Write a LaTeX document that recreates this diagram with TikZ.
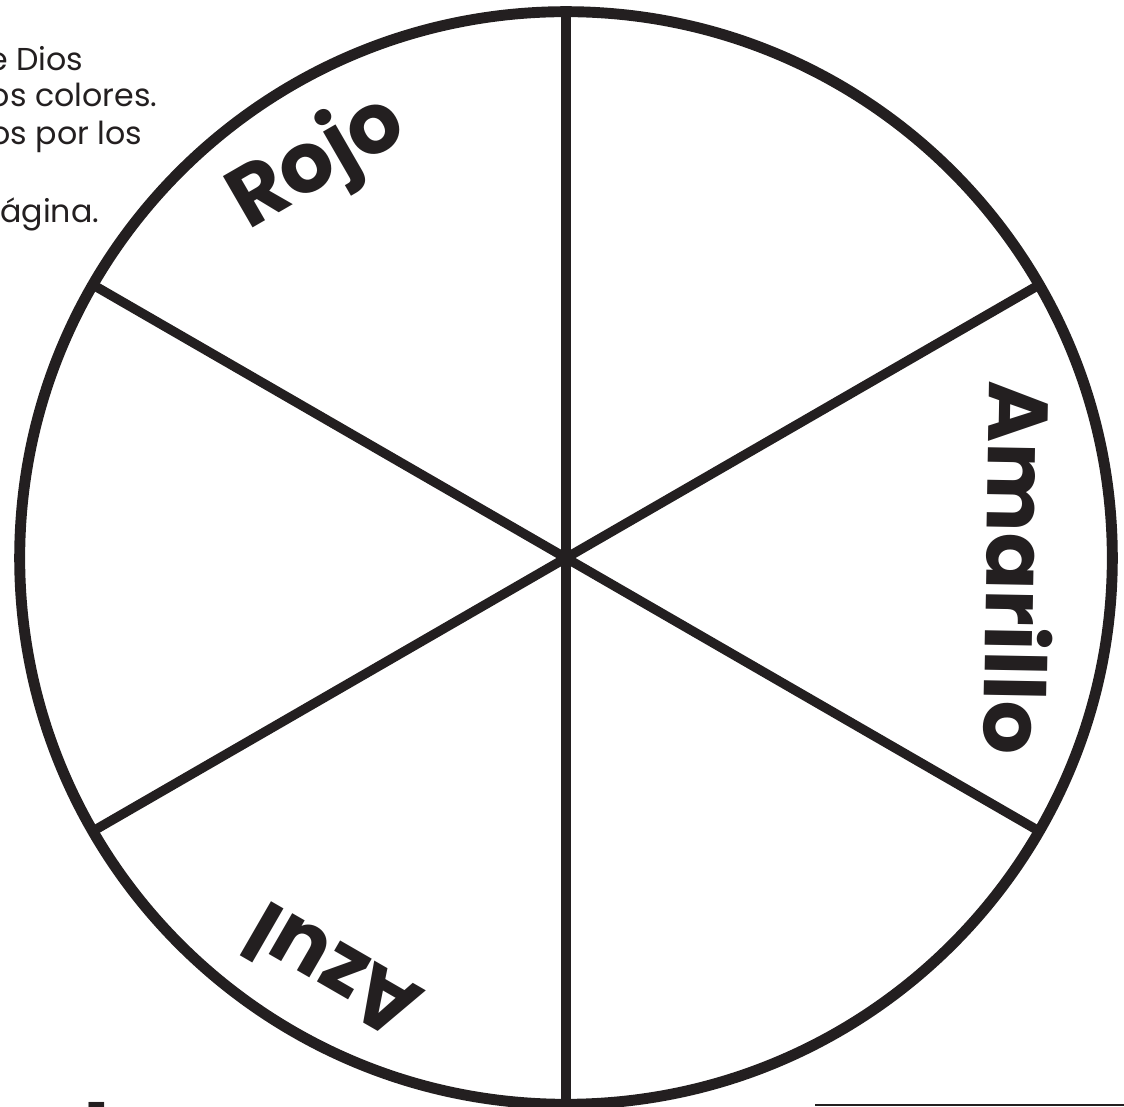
\documentclass[tikz,border=0pt]{standalone}
\usepackage{fontspec}
\setmainfont{Poppins}
\usetikzlibrary{positioning}
\definecolor{ink}{HTML}{231F20}

\begin{document}
\begin{tikzpicture}[x=0.01cm, y=-0.01cm,
  rim/.style       = {draw=ink, line width=3.1pt},
  spoke/.style     = {draw=ink, line width=2.7pt},
  colorname/.style = {font=\fontsize{24}{28}\selectfont\bfseries,
                      text=ink, inner sep=0pt},
  note/.style      = {font=\fontsize{9}{11}\selectfont, text=ink,
                      inner sep=0pt, anchor=base east},
  numeral/.style   = {font=\fontsize{16}{18}\selectfont\bfseries, text=ink,
                      inner sep=0pt, anchor=base west},
]
\useasboundingbox (0,0) rectangle (1124,1107);

% wheel
\coordinate (c) at (566,558);
\draw[rim] (c) circle (5.46cm);
\foreach \a in {30,90,150,210,270,330}
  \path (c) ++(\a:5.46cm) coordinate (r\a);
\foreach \a in {30,90,150,210,270,330}
  \draw[spoke] (c) -- (r\a);

% colour names
\node[colorname, rotate=30]  (rojo)     at (318,164) {Rojo};
\node[colorname, rotate=-91] (amarillo) at (1020,568) {Amarillo};
\node[colorname, rotate=150] (azul)     at (332,972) {Azul};

% cut-off text at the left
\node[note] (l1) at (84,71)   {e Dios};
\node[note] (l2) at (158,107) {os colores.};
\node[note] (l3) at (143,145) {os por los};
\node[note] (l4) at (100,223) {ágina.};

% step number and answer line at the bottom
\node[numeral] (num) at (87,1144) {1};
\coordinate (ln) at (815,1105);
\draw[ink, line width=0.8pt] (ln) -- (1130,1105);
\end{tikzpicture}
\end{document}
